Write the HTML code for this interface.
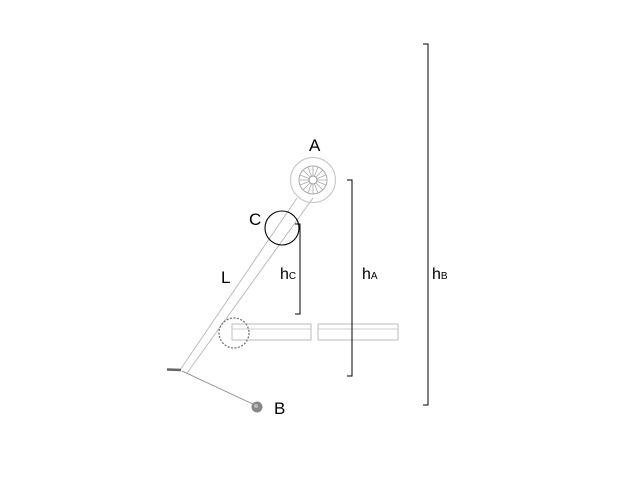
<!DOCTYPE html>
<html><head><meta charset="utf-8"><style>
html,body{margin:0;padding:0;background:#fff;}
svg{display:block}
text{font-family:"Liberation Sans",sans-serif;fill:#000}
</style></head><body>
<svg width="640" height="480" viewBox="0 0 640 480" xmlns="http://www.w3.org/2000/svg">
<line x1="297" y1="198" x2="180" y2="370" stroke="#bbb" stroke-width="1"/>
<line x1="313" y1="198" x2="187" y2="373" stroke="#bbb" stroke-width="1"/>
<circle cx="313" cy="180" r="22.5" fill="none" stroke="#ccc" stroke-width="1.2"/>
<circle cx="313" cy="180" r="14" fill="none" stroke="#aaa" stroke-width="1"/>
<g stroke="#aaa" stroke-width="0.8">
<line x1="299" y1="180" x2="327" y2="180"/><line x1="313" y1="166" x2="313" y2="194"/>
<line x1="303" y1="170" x2="323" y2="190"/><line x1="323" y1="170" x2="303" y2="190"/>
<line x1="300" y1="175" x2="326" y2="185"/><line x1="300" y1="185" x2="326" y2="175"/>
<line x1="308" y1="167" x2="318" y2="193"/><line x1="318" y1="167" x2="308" y2="193"/>
</g>
<circle cx="313" cy="180" r="4" fill="#fff" stroke="#999" stroke-width="1"/>
<circle cx="282" cy="228" r="17" fill="none" stroke="#000" stroke-width="1.1"/>
<rect x="232" y="324" width="79" height="16" fill="none" stroke="#bbb"/>
<line x1="232" y1="329" x2="311" y2="329" stroke="#ccc"/>
<rect x="318" y="324" width="80" height="16" fill="none" stroke="#bbb"/>
<line x1="318" y1="329" x2="398" y2="329" stroke="#ccc"/>
<circle cx="234" cy="333" r="15" fill="none" stroke="#777" stroke-width="1.3" stroke-dasharray="2,1.5"/>
<line x1="167" y1="369.5" x2="181" y2="370" stroke="#666" stroke-width="2.5"/>
<line x1="182" y1="371" x2="255" y2="405" stroke="#999" stroke-width="1"/>
<circle cx="257" cy="407" r="5.5" fill="#888"/>
<circle cx="256" cy="406" r="2" fill="#bbb"/>
<polyline points="295,224 300,224 300,314 295,314" fill="none" stroke="#000"/>
<polyline points="347,180 352,180 352,376 347,376" fill="none" stroke="#000"/>
<polyline points="423,44 428,44 428,405 423,405" fill="none" stroke="#000"/>
<text x="309" y="151" font-size="17">A</text>
<text x="249" y="225" font-size="17">C</text>
<text x="221" y="283" font-size="17">L</text>
<text x="280" y="279" font-size="16">h<tspan font-size="10">C</tspan></text>
<text x="362" y="279" font-size="16">h<tspan font-size="10">A</tspan></text>
<text x="432" y="279" font-size="16">h<tspan font-size="10">B</tspan></text>
<text x="274" y="414" font-size="17">B</text>
</svg>
</body></html>
